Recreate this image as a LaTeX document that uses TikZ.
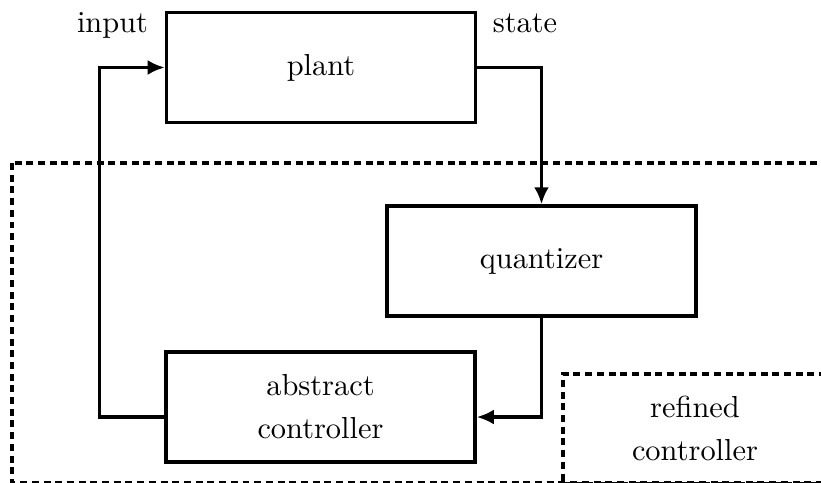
\documentclass[tikz,border=0pt]{standalone}
\usetikzlibrary{arrows.meta}
\begin{document}
\begin{tikzpicture}[>={Latex[length=5.6pt,width=4.9pt]},x=0.329pt,y=-0.329pt,
    block/.style={draw,line width=1.1pt,minimum width=101.7pt,minimum height=36.2pt,align=center},
    dashbox/.style={draw,line width=1.1pt,dash pattern=on 2.3pt off 1.55pt},
    link/.style={line width=1.1pt}]
      \clip (0,0) rectangle (821,483);
      \draw[dashbox] (12,163) rectangle (850,482.5);
      \node[block] (plant) at (321,67.5) {plant};
      \node[block] (quant) at (541.5,261) {quantizer};
      \node[block] (ctrl) at (320.5,407) {abstract\\[2.1pt] controller};
      \node[dashbox,minimum width=86.9pt,minimum height=36pt,align=center] (refined) at (695,428.7) {refined\\[2.1pt] controller};
      \node[anchor=base] (in) at (112.5,33) {input};
      \node[anchor=base] (st) at (525,33) {state};

      \draw[link,->] ([yshift=-3.3pt]ctrl.west) -- ++(-65,0) |- (plant.west);
      \draw[link,->] (plant.east) -| (quant.north);
      \draw[link,->] (quant.south) |- ([yshift=-3.3pt]ctrl.east);
    \end{tikzpicture}
\end{document}
